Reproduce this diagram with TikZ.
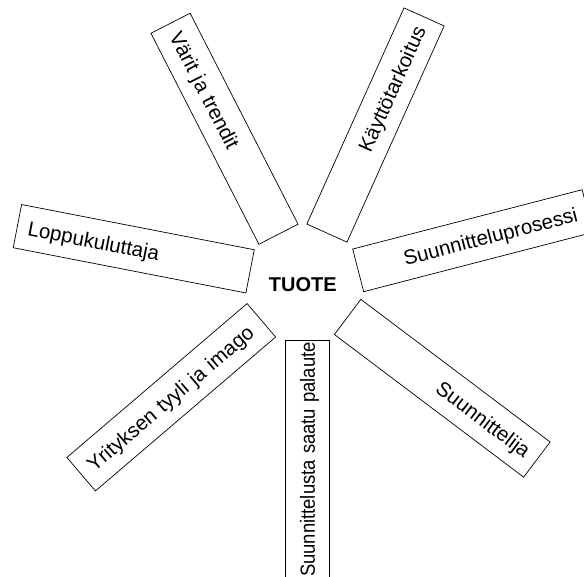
\documentclass[tikz,border=0pt]{standalone}
\usepackage{fontspec}
\setmainfont{Liberation Sans}
\usepackage{graphicx}

\begin{document}
\begin{tikzpicture}[x=1pt, y=1pt, line width=0.7pt]

%---------------- 尺寸參數 ----------------%
\def\boxH{44}   % 框的寬度 (短邊)
\def\padX{11}   % 文字與框端的距離

\tikzset{
  lohko/.style={draw, rectangle, minimum height=\boxH pt, inner xsep=\padX pt,
    inner ysep=0pt, text height=14.7pt, text depth=0pt,
    font=\fontsize{20.5}{24}\selectfont},
  keski/.style={font=\fontsize{20}{24}\selectfont\bfseries}
}

%---------------- 畫布 ----------------%
\useasboundingbox (0,0) rectangle (584,576);
\clip (0,0) rectangle (584,576);

%---------------- 中心 ----------------%
\node[keski] (tuote) at (302.8,291.5) {TUOTE};

%---------------- 七個框 ----------------%
\foreach \nimi/\x/\y/\kulma/\pituus/\tasaus/\teksti in {
  varit/224.5/447.25/-62.9/237/left/Värit ja trendit,
  kaytto/375.5/451/65.8/237/right/Käyttötarkoitus,
  loppu/133.75/327.25/-11/237/left/Loppukuluttaja,
  prosessi/472.9/335.3/14.5/237/right/Suunnitteluprosessi,
  imago/171.25/178.75/40.5/237/left/Yrityksen tyyli ja imago,
  palaute/307.5/112/90/248/left/{\scalebox{0.9}[1]{Suunnittelusta saatu palaute}},
  suunnittelija/442.25/187.75/-37/237/right/Suunnittelija} {%
  \pgfmathsetmacro\tw{\pituus-2*\padX}
  \node[lohko, rotate=\kulma, minimum width=\pituus pt, text width=\tw pt,
    align=\tasaus] (\nimi) at (\x,\y) {\teksti};
}

\end{tikzpicture}
\end{document}
